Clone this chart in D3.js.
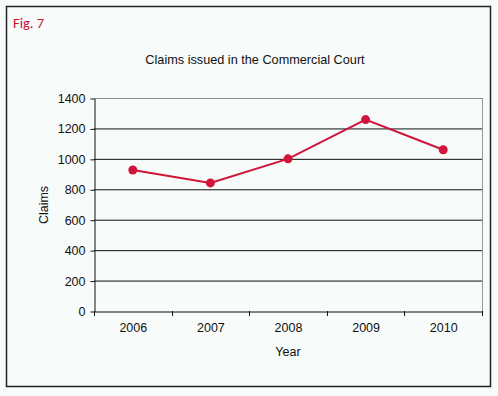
<!DOCTYPE html>
<html><head><meta charset="utf-8">
<script src="https://cdn.jsdelivr.net/npm/d3@7"></script>
<style>body{margin:0;background:#f7fbfa;}svg{display:block;}</style>
</head><body><svg id="c" width="498" height="396"></svg>
<script>
const years = ["2006","2007","2008","2009","2010"];
const claims = [927, 842, 1000, 1258, 1060];
const yTicks = [0,200,400,600,800,1000,1200,1400];

const svg = d3.select("#c");
const W=498,H=396;
svg.append("rect").attr("width",W).attr("height",H).attr("fill","#f7fbfa");
svg.append("rect").attr("x",6.5).attr("y",6.5).attr("width",484).attr("height",380)
  .attr("fill","none").attr("stroke","#222").attr("stroke-width",1.5);
svg.append("text").attr("x",13).attr("y",28).text("Fig. 7")
  .attr("font-family","Calibri, Carlito, 'Open Sans', sans-serif").attr("font-size",14.5).attr("fill","#c8102e");

const m={l:94,r:482,t:98,b:311};
const x=d3.scaleBand().domain(years).range([m.l,m.r]);
const y=d3.scaleLinear().domain([0,1400]).range([m.b,m.t]);
const font="Arial, 'Liberation Sans', sans-serif";

svg.append("text").attr("x",255).attr("y",64).attr("text-anchor","middle")
  .attr("font-family",font).attr("font-size",12.7).attr("fill","#111")
  .text("Claims issued in the Commercial Court");

// gridlines
svg.append("g").selectAll("line").data(yTicks.filter(d=>d>0)).join("line")
  .attr("x1",m.l).attr("x2",m.r).attr("y1",d=>y(d)+0.5).attr("y2",d=>y(d)+0.5)
  .attr("stroke",d=>d===1400?"#888":"#111").attr("stroke-width",1);
// right border
svg.append("line").attr("x1",m.r+0.5).attr("x2",m.r+0.5).attr("y1",m.t).attr("y2",m.b).attr("stroke","#999");

const ya=svg.append("g").attr("transform",`translate(${m.l+0.5},0.5)`)
  .call(d3.axisLeft(y).tickValues(yTicks).tickFormat(d3.format("d")).tickSize(4).tickSizeOuter(0).tickPadding(5));
const xa=svg.append("g").attr("transform",`translate(0.5,${m.b+0.5})`)
  .call(d3.axisBottom(x).tickSize(0).tickSizeOuter(0).tickPadding(12));
// x ticks at band boundaries
svg.append("g").selectAll("line").data(years.concat(["end"])).join("line")
  .attr("x1",(d,i)=>Math.round(m.l+i*x.step())+0.5).attr("x2",(d,i)=>Math.round(m.l+i*x.step())+0.5)
  .attr("y1",m.b).attr("y2",m.b+5).attr("stroke","#111");
[ya,xa].forEach(a=>{a.selectAll("path,line").attr("stroke","#111");
  a.selectAll("text").attr("font-family",font).attr("font-size",12.5).attr("fill","#111");});

svg.append("text").attr("x",288).attr("y",356).attr("text-anchor","middle")
  .attr("font-family",font).attr("font-size",12.5).attr("fill","#111").text("Year");
svg.append("text").attr("transform","translate(48,205) rotate(-90)").attr("text-anchor","middle")
  .attr("font-family",font).attr("font-size",12.5).attr("fill","#111").text("Claims");

const line=d3.line().x((d,i)=>x(years[i])+x.bandwidth()/2).y(d=>y(d));
svg.append("path").datum(claims).attr("d",line).attr("fill","none").attr("stroke","#d0143a").attr("stroke-width",2);
svg.append("g").selectAll("circle").data(claims).join("circle")
  .attr("cx",(d,i)=>x(years[i])+x.bandwidth()/2).attr("cy",d=>y(d)).attr("r",4.5).attr("fill","#d0143a");
</script></body></html>
